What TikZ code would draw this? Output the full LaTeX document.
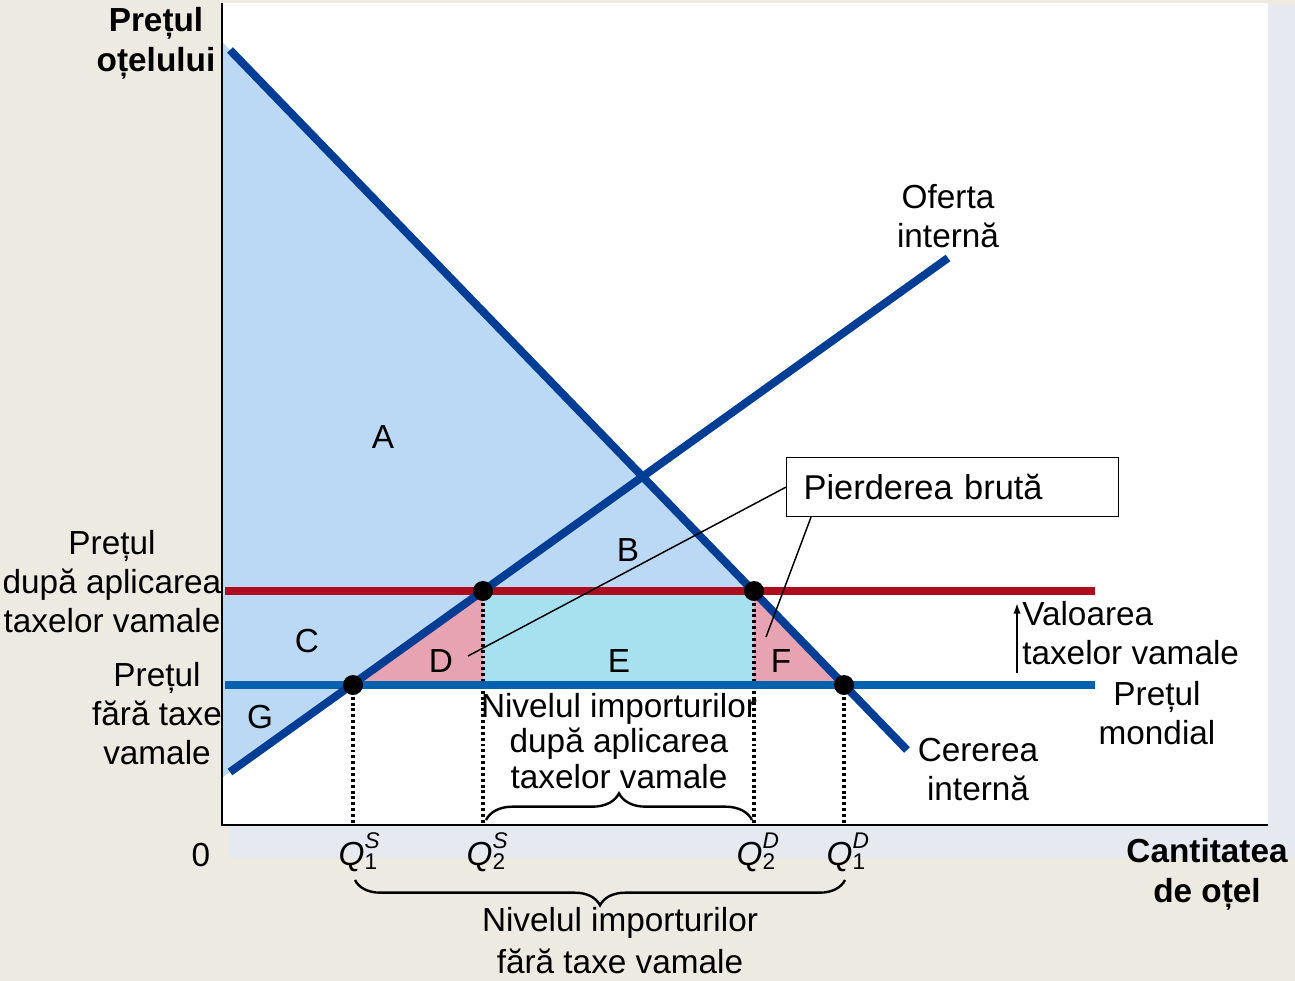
\documentclass[tikz,border=0pt]{standalone}
\usepackage{fontspec}
\setmainfont{Liberation Sans}
\usetikzlibrary{decorations.pathreplacing,arrows.meta,calc}
\definecolor{bgbeige}{RGB}{237,234,226}
\definecolor{shadowgrey}{RGB}{230,233,240}
\definecolor{surplusblue}{RGB}{187,216,245}
\definecolor{losspink}{RGB}{232,163,179}
\definecolor{importcyan}{RGB}{167,225,239}
\definecolor{curveblue}{RGB}{0,62,149}
\definecolor{worldblue}{RGB}{0,98,175}
\definecolor{tariffred}{RGB}{174,13,31}
\newcommand{\Qlab}[2]{\textit{Q}\rlap{\raisebox{0.5em}{\fontsize{17}{17}\selectfont\itshape #1}}\raisebox{-0.12em}{\fontsize{17}{17}\selectfont #2}}
\begin{document}
\begin{tikzpicture}[x=0.75pt,y=0.75pt,
  lbl/.style={font=\fontsize{25}{29}\selectfont, inner sep=0pt, anchor=base, align=center},
  boldlbl/.style={lbl, font=\fontsize{25}{30}\selectfont\bfseries},
  curve/.style={line width=6pt, curveblue},
  pricered/.style={line width=5.3pt, tariffred},
  priceblue/.style={line width=5.3pt, worldblue},
  guide/.style={line width=2.4pt, dash pattern=on 2.2pt off 2.2pt, black},
  dot/.style={circle, fill=black, minimum size=15pt, inner sep=0pt},
  leader/.style={line width=1.1pt, black},
  bracebrace/.style={line width=1.8pt, decorate},
  axis/.style={line width=2.2pt, black, line join=miter}]
\useasboundingbox (0,0) rectangle (1295,-981);
% background and plot panel with shadow
\fill[bgbeige] (0,0) rectangle (1295,-981);
\fill[shadowgrey] (229,-5) rectangle (1295,-858);
\fill[white] (222,-3) rectangle (1268,-825);
% key coordinates
\coordinate (dtop) at (230,-50);
\coordinate (dbot) at (907,-750);
\coordinate (sbot) at (230,-772);
\coordinate (stop) at (948,-258);
\coordinate (p1s) at (353,-685);
\coordinate (p2s) at (483,-591);
\coordinate (p2d) at (754,-591);
\coordinate (p1d) at (844,-685);
\coordinate (ytop) at (222,-3);
\coordinate (orig) at (222,-825);
\coordinate (xend) at (1268,-825);
% areas
\fill[surplusblue] (222,-41.7) -- (p2d) -- (p2s) -- (222,-777.7) -- cycle;
\fill[losspink] (p1s) -- (p2s) -- (483,-685) -- cycle;
\fill[importcyan] (p2s) rectangle (754,-685);
\fill[losspink] (p2d) -- (p1d) -- (754,-685) -- cycle;
% guide lines
\draw[guide] (p1s) -- (p1s |- orig);
\draw[guide] (p2s) -- (p2s |- orig);
\draw[guide] (p2d) -- (p2d |- orig);
\draw[guide] (p1d) -- (p1d |- orig);
% price lines
\coordinate (rl) at (225,-591);
\coordinate (rr) at (1095,-591);
\coordinate (bl) at (225,-685);
\coordinate (br) at (1095,-685);
\draw[pricered] (rl) -- (rr);
\draw[priceblue] (bl) -- (br);
% supply and demand
\draw[curve] (dtop) -- (dbot);
\draw[curve] (sbot) -- (stop);
% axes
\draw[axis] (ytop) -- (orig) -- (xend);
% dots
\node[dot] (d1) at (p1s) {};
\node[dot] (d2) at (p2s) {};
\node[dot] (d3) at (p2d) {};
\node[dot] (d4) at (p1d) {};
% area labels
\node[lbl] (la) at (383,-448) {A};
\node[lbl] (lb) at (628,-561) {B};
\node[lbl] (lc) at (307,-652) {C};
\node[lbl] (ld) at (441,-672) {D};
\node[lbl] (le) at (619,-672) {E};
\node[lbl] (lf) at (781,-672) {F};
\node[lbl] (lg) at (260,-728) {G};
% deadweight loss box
\node[draw, line width=0.9pt, anchor=north west, inner xsep=12.75pt, inner ysep=0pt,
      text width=223.5pt, align=left, minimum height=44.25pt,
      font=\fontsize{25.8}{29}\selectfont] (pb) at (786,-457) {Pierderea brută};
\coordinate (tipd) at (468,-656);
\coordinate (tipf) at (766,-637);
\draw[leader] (pb.west) -- (tipd);
\draw[leader] ($(pb.south west)+(25,0)$) -- (tipf);
% curve labels (base anchor = baseline of last line)
\node[lbl] (of) at (948,-247) {Oferta\\internă};
\node[lbl] (ce) at (978,-800) {Cererea\\internă};
\node[lbl] (pm) at (1157,-744) {Prețul\\mondial};
\node[lbl, align=left, anchor=base west] (vt) at (1022,-664) {Valoarea\\taxelor vamale};
\coordinate (arb) at (1017,-673);
\coordinate (art) at (1017,-603);
\draw[line width=1.3pt, -{Latex[length=8pt,width=5.5pt]}] (arb) -- (art);
% price labels
\node[lbl] (pd) at (112,-632) {Prețul\\după aplicarea\\taxelor vamale};
\node[lbl] (pf) at (157,-764) {Prețul\\fără taxe\\vamale};
\node[boldlbl] (py) at (156,-72) {Prețul\\oțelului};
\node[boldlbl] (qx) at (1207,-902) {Cantitatea\\de oțel};
\node[lbl] (zero) at (201,-866) {0};
% quantity labels
\node[lbl] (q1s) at (358,-865) {\Qlab{S}{1}};
\node[lbl] (q2s) at (486,-865) {\Qlab{S}{2}};
\node[lbl] (q2d) at (756,-865) {\Qlab{D}{2}};
\node[lbl] (q1d) at (846,-865) {\Qlab{D}{1}};
% braces
\coordinate (ub1) at (486,-820);
\coordinate (ub2) at (752,-820);
\coordinate (lb1) at (845,-880);
\coordinate (lb2) at (355,-880);
\draw[bracebrace, decoration={brace, amplitude=20pt}] (ub1) -- (ub2);
\draw[bracebrace, decoration={brace, amplitude=19pt}] (lb1) -- (lb2);
\node[lbl, font=\fontsize{25}{26.5}\selectfont] (nu) at (619,-788) {Nivelul importurilor\\după aplicarea\\taxelor vamale};
\node[lbl, font=\fontsize{25}{31}\selectfont] (nl) at (620,-973) {Nivelul importurilor\\fără taxe vamale};
\end{tikzpicture}
\end{document}
